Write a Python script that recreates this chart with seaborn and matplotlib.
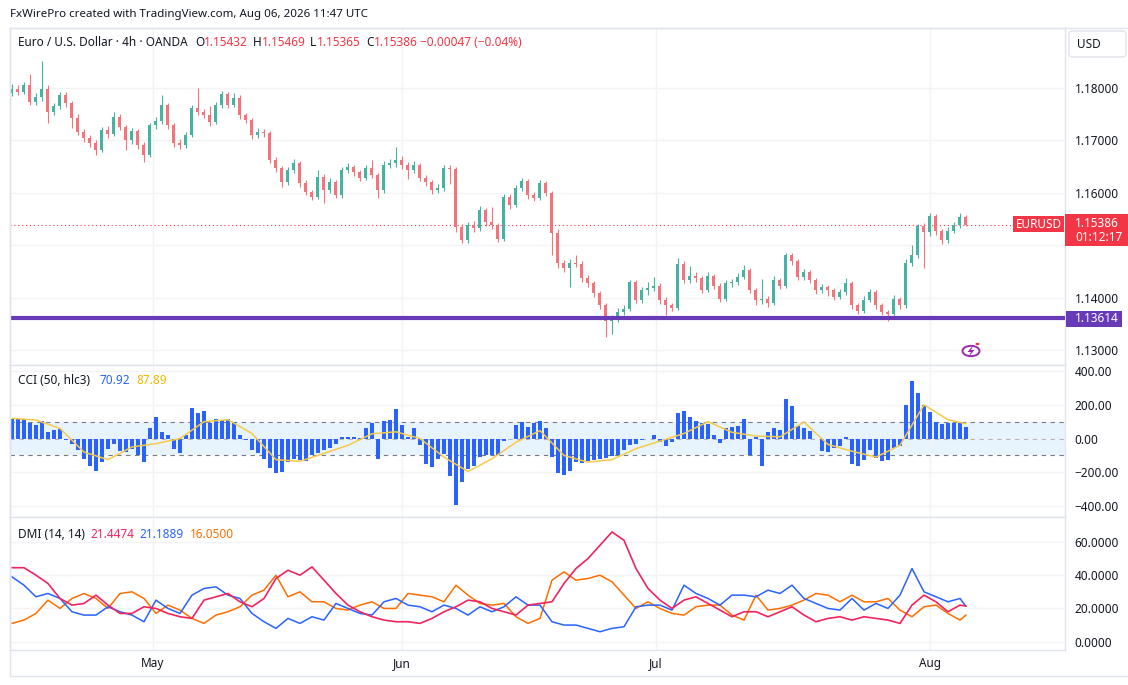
import numpy as np
import pandas as pd
import matplotlib
matplotlib.use("Agg")
import matplotlib.pyplot as plt
from matplotlib.patches import Rectangle, FancyBboxPatch, Circle, Polygon
from matplotlib.lines import Line2D
import seaborn as sns

# ---- price data (approx. 12h bars) ----
first_open = 1.1790
closes = [
    1.1799, 1.1793, 1.1806, 1.1774, 1.1782, 1.1799, 1.1755, 1.1765, 1.1787, 1.1771,
    1.1743, 1.1716, 1.1704, 1.1695, 1.1681, 1.1720, 1.1712, 1.1745, 1.1725, 1.1700,
    1.1718, 1.1691, 1.1672, 1.1729, 1.1737, 1.1767, 1.1729, 1.1695, 1.1691, 1.1710,
    1.1762, 1.1754, 1.1748, 1.1736, 1.1767, 1.1789, 1.1768, 1.1781, 1.1748, 1.1739,
    1.1710, 1.1716, 1.1715, 1.1662, 1.1647, 1.1620, 1.1643, 1.1657, 1.1618, 1.1601,
    1.1592, 1.1630, 1.1605, 1.1620, 1.1595, 1.1643, 1.1649, 1.1639, 1.1628, 1.1647,
    1.1634, 1.1605, 1.1653, 1.1657, 1.1662, 1.1653, 1.1643, 1.1653, 1.1628, 1.1620,
    1.1605, 1.1609, 1.1647, 1.1645, 1.1534, 1.1509, 1.1538, 1.1532, 1.1567, 1.1544,
    1.1538, 1.1512, 1.1592, 1.1576, 1.1609, 1.1622, 1.1595, 1.1590, 1.1618, 1.1600,
    1.1523, 1.1467, 1.1456, 1.1467, 1.1465, 1.1437, 1.1427, 1.1408, 1.1385, 1.1356,
    1.1360, 1.1372, 1.1379, 1.1429, 1.1395, 1.1414, 1.1418, 1.1423, 1.1395, 1.1385,
    1.1381, 1.1465, 1.1433, 1.1442, 1.1437, 1.1414, 1.1442, 1.1423, 1.1398, 1.1427,
    1.1429, 1.1440, 1.1452, 1.1414, 1.1395, 1.1398, 1.1389, 1.1433, 1.1423, 1.1481,
    1.1469, 1.1440, 1.1448, 1.1433, 1.1414, 1.1420, 1.1414, 1.1402, 1.1410, 1.1427,
    1.1385, 1.1374, 1.1395, 1.1410, 1.1385, 1.1372, 1.1368, 1.1398, 1.1385, 1.1467,
    1.1481, 1.1536, 1.1525, 1.1555, 1.1527, 1.1509, 1.1528, 1.1538, 1.1553, 1.15386,
]
highs = [
    1.1808, 1.1806, 1.1812, 1.1827, 1.1790, 1.1852, 1.1805, 1.1772, 1.1793, 1.1792,
    1.1776, 1.1750, 1.1722, 1.1710, 1.1700, 1.1726, 1.1727, 1.1754, 1.1750, 1.1730,
    1.1724, 1.1722, 1.1696, 1.1734, 1.1745, 1.1787, 1.1772, 1.1733, 1.1702, 1.1716,
    1.1768, 1.1800, 1.1760, 1.1765, 1.1774, 1.1795, 1.1793, 1.1791, 1.1786, 1.1752,
    1.1743, 1.1724, 1.1722, 1.1718, 1.1668, 1.1652, 1.1649, 1.1664, 1.1661, 1.1624,
    1.1606, 1.1643, 1.1636, 1.1628, 1.1625, 1.1650, 1.1657, 1.1654, 1.1644, 1.1653,
    1.1662, 1.1638, 1.1660, 1.1664, 1.1687, 1.1670, 1.1658, 1.1660, 1.1657, 1.1634,
    1.1625, 1.1616, 1.1653, 1.1653, 1.1650, 1.1540, 1.1545, 1.1547, 1.1575, 1.1571,
    1.1572, 1.1543, 1.1598, 1.1597, 1.1615, 1.1628, 1.1627, 1.1601, 1.1624, 1.1622,
    1.1604, 1.1530, 1.1472, 1.1474, 1.1481, 1.1470, 1.1443, 1.1432, 1.1412, 1.1390,
    1.1367, 1.1380, 1.1386, 1.1433, 1.1434, 1.1420, 1.1430, 1.1439, 1.1428, 1.1401,
    1.1390, 1.1475, 1.1469, 1.1461, 1.1448, 1.1441, 1.1448, 1.1446, 1.1427, 1.1433,
    1.1435, 1.1447, 1.1462, 1.1456, 1.1418, 1.1435, 1.1404, 1.1441, 1.1438, 1.1485,
    1.1486, 1.1473, 1.1455, 1.1452, 1.1437, 1.1426, 1.1424, 1.1418, 1.1416, 1.1437,
    1.1431, 1.1390, 1.1404, 1.1417, 1.1414, 1.1390, 1.1377, 1.1405, 1.1402, 1.1473,
    1.1500, 1.1540, 1.1542, 1.1561, 1.1560, 1.1531, 1.1534, 1.1545, 1.1561, 1.1557,
]
lows = [
    1.1784, 1.1786, 1.1788, 1.1768, 1.1768, 1.1776, 1.1733, 1.1748, 1.1760, 1.1764,
    1.1724, 1.1710, 1.1697, 1.1688, 1.1672, 1.1677, 1.1705, 1.1708, 1.1719, 1.1681,
    1.1694, 1.1684, 1.1659, 1.1668, 1.1722, 1.1731, 1.1722, 1.1688, 1.1683, 1.1686,
    1.1706, 1.1748, 1.1742, 1.1728, 1.1731, 1.1762, 1.1762, 1.1763, 1.1741, 1.1733,
    1.1703, 1.1705, 1.1707, 1.1656, 1.1640, 1.1611, 1.1615, 1.1637, 1.1612, 1.1595,
    1.1586, 1.1588, 1.1580, 1.1600, 1.1590, 1.1591, 1.1638, 1.1633, 1.1622, 1.1624,
    1.1628, 1.1590, 1.1600, 1.1647, 1.1650, 1.1646, 1.1627, 1.1638, 1.1622, 1.1613,
    1.1598, 1.1600, 1.1604, 1.1616, 1.1525, 1.1504, 1.1505, 1.1526, 1.1528, 1.1537,
    1.1530, 1.1506, 1.1508, 1.1570, 1.1572, 1.1603, 1.1589, 1.1584, 1.1586, 1.1594,
    1.1481, 1.1456, 1.1449, 1.1420, 1.1458, 1.1430, 1.1420, 1.1401, 1.1378, 1.1324,
    1.1330, 1.1353, 1.1366, 1.1374, 1.1389, 1.1390, 1.1405, 1.1412, 1.1388, 1.1366,
    1.1374, 1.1377, 1.1427, 1.1428, 1.1430, 1.1408, 1.1410, 1.1417, 1.1392, 1.1394,
    1.1421, 1.1424, 1.1435, 1.1408, 1.1385, 1.1388, 1.1382, 1.1385, 1.1417, 1.1419,
    1.1462, 1.1434, 1.1434, 1.1427, 1.1406, 1.1409, 1.1404, 1.1396, 1.1397, 1.1405,
    1.1378, 1.1368, 1.1370, 1.1391, 1.1378, 1.1366, 1.1356, 1.1364, 1.1378, 1.1381,
    1.1460, 1.1476, 1.1456, 1.1518, 1.1520, 1.1503, 1.1505, 1.1523, 1.1533, 1.1536,
]

# ---- CCI (50, hlc3) ----
cci = [
    116, 120, 113, 95, 80, 105, 40, 50, 57, -10,
    -30, -70, -120, -165, -190, -140, -60, -35, -75, -80,
    -60, -100, -140, 60, 125, 40, 20, -60, -85, 20,
    180, 150, 165, 90, 115, 110, 115, 100, 20, -10,
    -70, -85, -120, -175, -205, -200, -140, -120, -130, -135,
    -95, -85, -65, -55, -30, 10, 8, 12, 6, 60,
    90, -120, 105, 110, 175, 80, 10, 65, -40, -150,
    -170, -120, -90, -220, -396, -260, -180, -165, -110, -100,
    -95, -100, -15, -5, 80, 100, 70, 95, 105, 60,
    -110, -205, -215, -190, -140, -145, -135, -125, -120, -115,
    -105, -95, -70, -40, -30, -10, -5, 20, -20, -45,
    -20, 150, 165, 130, 105, 95, 85, 20, -25, 60,
    70, 75, 115, -100, 10, -165, 40, 60, 50, 234,
    195, 75, 60, 45, -5, -75, -80, -55, -45, 10,
    -150, -160, -130, -70, -115, -135, -125, -55, -45, 200,
    340, 270, 200, 160, 100, 85, 90, 95, 90, 70.92,
]
cci_ma = [
    120, 110, 60, -80, -125, -50, -30, 0, 100, 112,
    30, -125, -135, -88, -40, 28, 40, 0, -110, -195,
    -120, -22, 47, -100, -140, -125, -60, -15, 30, 100,
    37, 15, 10, 98, -35, -75, -110, -40, 200, 112,
    87.89,
]

# ---- DMI (14, 14) ----
adx = [
    44.5, 44.5, 40, 35, 26, 22, 23, 28, 22, 17,
    17, 21, 20, 17, 15, 14, 25, 27, 29, 24,
    21, 26, 38, 43, 40, 45, 37, 29, 22, 18,
    15, 13, 12, 12, 11, 14, 18, 21, 25, 24,
    20, 18, 16, 22, 23, 24, 35, 44, 50, 58,
    66, 61, 44, 32, 25, 20, 25, 27, 23, 19,
    15, 18, 18, 15, 18, 21, 16, 12, 14, 15,
    13, 15, 14, 13, 11, 22, 28, 24, 18, 22,
    21.4474,
]
plus_di = [
    39, 34, 27, 29, 26, 18, 16, 16, 21, 18,
    16, 12, 25, 20, 17, 28, 32, 33, 28, 26,
    17, 12, 8, 14, 11, 15, 13, 23, 20, 17,
    16, 24, 26, 22, 21, 18, 22, 20, 16, 21,
    18, 21, 27, 22, 22, 12, 10, 10, 8, 6,
    8, 9, 21, 22, 22, 19, 34, 29, 26, 22,
    28, 28, 27, 31, 29, 34, 26, 23, 20, 19,
    26, 19, 23, 20, 28, 44, 30, 27, 24, 26,
    21.1889,
]
minus_di = [
    11, 13, 17, 25, 20, 26, 29, 26, 20, 29,
    30, 26, 17, 22, 19, 14, 11, 16, 18, 21,
    28, 31, 40, 27, 30, 24, 24, 20, 19, 22,
    24, 20, 20, 29, 28, 27, 24, 34, 28, 23,
    22, 23, 15, 11, 14, 37, 42, 37, 38, 40,
    36, 28, 20, 24, 20, 17, 16, 21, 22, 22,
    16, 13, 28, 19, 20, 22, 25, 29, 28, 24,
    28, 24, 24, 26, 19, 15, 21, 22, 17, 13,
    16.05,
]

months = ["May", "Jun", "Jul", "Aug"]
month_pos = [23.5, 65, 107.3, 153]
price_ticks = [1.13, 1.14, 1.15, 1.16, 1.17, 1.18]
cci_ticks = [-400, -200, 0, 200, 400]
dmi_ticks = [0, 20, 40, 60]
last_price = 1.15386
support = 1.13614

# ---- frame ----
df = pd.DataFrame({"high": highs, "low": lows, "close": closes})
df["open"] = [first_open] + closes[:-1]
df["idx"] = np.arange(len(df))
df["up"] = df["close"] >= df["open"]

n = len(df)
cci_idx = np.arange(n)
ma_idx = list(range(0, n, 4)) + [n - 1]
dmi_idx = list(range(0, n, 2)) + [n - 1]

sns.set_theme(style="white")
plt.rcParams["font.family"] = ["Noto Sans", "DejaVu Sans"]

W, H = 1128, 685
fig = plt.figure(figsize=(W / 100, H / 100), dpi=100)


def fx(px):
    return px / W


def fy(py):
    return 1 - py / H


FS = 8.5
L, R = 10, 1065
ax_p = fig.add_axes([fx(L), fy(365), fx(R) - fx(L), fy(28) - fy(365)])
ax_c = fig.add_axes([fx(L), fy(517), fx(R) - fx(L), fy(365) - fy(517)])
ax_d = fig.add_axes([fx(L), fy(650), fx(R) - fx(L), fy(517) - fy(650)])

grid_c = "#f2f3f7"
text_c = "#131722"
for ax in (ax_p, ax_c, ax_d):
    ax.set_xlim(-0.33, 175.5)
    ax.set_xticks(month_pos)
    ax.yaxis.tick_right()
    ax.tick_params(axis="y", length=0, pad=7, labelsize=FS, labelcolor=text_c)
    ax.tick_params(axis="x", length=0)
    ax.grid(True, color=grid_c, lw=1)
    for s in ax.spines.values():
        s.set_color("#e0e3eb")
        s.set_linewidth(1)
    ax.set_facecolor("white")
ax_p.set_xticklabels([])
ax_c.set_xticklabels([])

# ---- price panel ----
up_c, dn_c = "#45b3a0", "#f4747c"
cols = np.where(df["up"], up_c, dn_c)
ax_p.vlines(df["idx"], df["low"], df["high"], colors=cols, lw=0.8, zorder=2)
body = np.maximum((df["close"] - df["open"]).abs(), 0.00008)
ax_p.bar(df["idx"], body, bottom=df[["open", "close"]].min(axis=1),
         width=0.5, color=cols, lw=0, zorder=3)
ax_p.axhline(support, color="#673ab7", lw=3, zorder=4)
ax_p.axhline(last_price, xmax=(1013 - L) / (R - L), color="#f23645",
             lw=0.8, ls=(0, (1, 2.5)), zorder=1)
ax_p.set_ylim(1.12714, 1.19145)
ax_p.set_yticks(price_ticks)
# 1.15000 sits under the live price box, so its label is left blank
ax_p.set_yticklabels(["" if v == 1.15 else f"{v:.5f}" for v in price_ticks])

# ---- CCI panel ----
ax_c.axhspan(-100, 100, color="#2196f3", alpha=0.1, lw=0, zorder=0)
for lvl, a in ((100, 1.0), (-100, 1.0), (0, 0.5)):
    ax_c.axhline(lvl, color="#787b86", lw=0.8, ls=(0, (4, 4)), alpha=a, zorder=1)
ax_c.bar(cci_idx, cci, width=0.66, color="#2962ff", lw=0, zorder=2)
sns.lineplot(x=ma_idx, y=cci_ma, ax=ax_c, color="#f7c948", lw=1.1, zorder=3)
ax_c.set_ylim(-465, 436)
ax_c.set_yticks(cci_ticks)
ax_c.set_yticklabels([f"{v:.2f}".replace("-", "\u2212") for v in cci_ticks])

# ---- DMI panel ----
sns.lineplot(x=dmi_idx, y=minus_di, ax=ax_d, color="#ff6d00", lw=1.1)
sns.lineplot(x=dmi_idx, y=plus_di, ax=ax_d, color="#2962ff", lw=1.1)
sns.lineplot(x=dmi_idx, y=adx, ax=ax_d, color="#f0245f", lw=1.2)
ax_d.set_ylim(-5, 75)
ax_d.set_yticks(dmi_ticks)
ax_d.set_yticklabels([f"{v:.4f}" for v in dmi_ticks])
ax_d.set_xticklabels(months, fontsize=FS, fontweight="semibold", color=text_c)
ax_d.tick_params(axis="x", pad=5)
for ax in (ax_p, ax_c, ax_d):
    ax.set_xlabel("")
    ax.set_ylabel("")

# ---- outer frame ----
fig.add_artist(Line2D([fx(L), fx(L)], [fy(28), fy(676)], color="#e0e3eb", lw=1))
fig.add_artist(Line2D([fx(L), fx(1128)], [fy(676), fy(676)], color="#e0e3eb", lw=1))
fig.add_artist(Line2D([fx(L), fx(1128)], [fy(28), fy(28)], color="#e0e3eb", lw=1))

# ---- header texts ----
fig.text(fx(10), fy(15), "FxWirePro created with TradingView.com, Aug 06, 2026 11:47 UTC",
         fontsize=8.3, color=text_c, va="center")
red = "#f23645"
legend_parts = [
    (18, "Euro / U.S. Dollar \u00b7 4h \u00b7 OANDA", text_c),
    (195, "O", text_c), (204, "1.15432", red),
    (253, "H", text_c), (262, "1.15469", red),
    (310, "L", text_c), (317, "1.15365", red),
    (366, "C", text_c), (374, "1.15386", red),
    (420, "\u22120.00047 (\u22120.04%)", red),
]
for x, s, c in legend_parts:
    fig.text(fx(x), fy(43), s, fontsize=FS, color=c, va="center")

for x, s, c in [(18, "CCI (50, hlc3)", text_c), (99, "70.92", "#2962ff"),
                (136, "87.89", "#f5b800")]:
    fig.text(fx(x), fy(381), s, fontsize=FS, color=c, va="center")
for x, s, c in [(18, "DMI (14, 14)", text_c), (90, "21.4474", "#f0245f"),
                (139, "21.1889", "#2962ff"), (190, "16.0500", "#ff6d00")]:
    fig.text(fx(x), fy(534), s, fontsize=FS, color=c, va="center")

# ---- right side labels ----
fig.add_artist(FancyBboxPatch((fx(1069), fy(57)), fx(57), fy(31) - fy(57),
                              boxstyle="round,pad=0,rounding_size=0.004",
                              transform=fig.transFigure, fc="white", ec="#e0e3eb", lw=1))
fig.text(fx(1077), fy(44), "USD", fontsize=FS, color=text_c, va="center")

fig.add_artist(Rectangle((fx(1065), fy(246)), fx(63), fy(214) - fy(246),
                         transform=fig.transFigure, fc=red, ec="none", zorder=5))
fig.text(fx(1075), fy(223), "1.15386", fontsize=FS, color="white", va="center", zorder=6)
fig.text(fx(1075), fy(238), "01:12:17", fontsize=FS, color="white", va="center", zorder=6)

fig.add_artist(Rectangle((fx(1013), fy(232)), fx(51), fy(216) - fy(232),
                         transform=fig.transFigure, fc=red, ec="none", zorder=5))
fig.text(fx(1038.5), fy(224), "EURUSD", fontsize=FS, color="white",
         ha="center", va="center", zorder=6)

fig.add_artist(Rectangle((fx(1066), fy(327)), fx(56), fy(311) - fy(327),
                         transform=fig.transFigure, fc="#673ab7", ec="none", zorder=5))
fig.text(fx(1075), fy(319), "1.13614", fontsize=FS, color="white", va="center", zorder=6)

# small lightning icon
cx, cy = 971, 351
fig.add_artist(Circle((fx(cx), fy(cy)), fx(8.5), transform=fig.transFigure,
                      fc="white", ec="#9c27b0", lw=1.4, zorder=5))
bolt = [(2.5, -6), (-3.5, 1), (0, 1), (-2.5, 6), (3.5, -1), (0, -1)]
fig.add_artist(Polygon([(fx(cx + dx), fy(cy + dy)) for dx, dy in bolt], closed=True,
                       transform=fig.transFigure, fc="#9c27b0", ec="none", zorder=6))
fig.add_artist(Circle((fx(977.5), fy(344)), fx(2.6), transform=fig.transFigure,
                      fc="#f23645", ec="white", lw=0.6, zorder=7))

fig.savefig("out.png", dpi=100, facecolor="white")
